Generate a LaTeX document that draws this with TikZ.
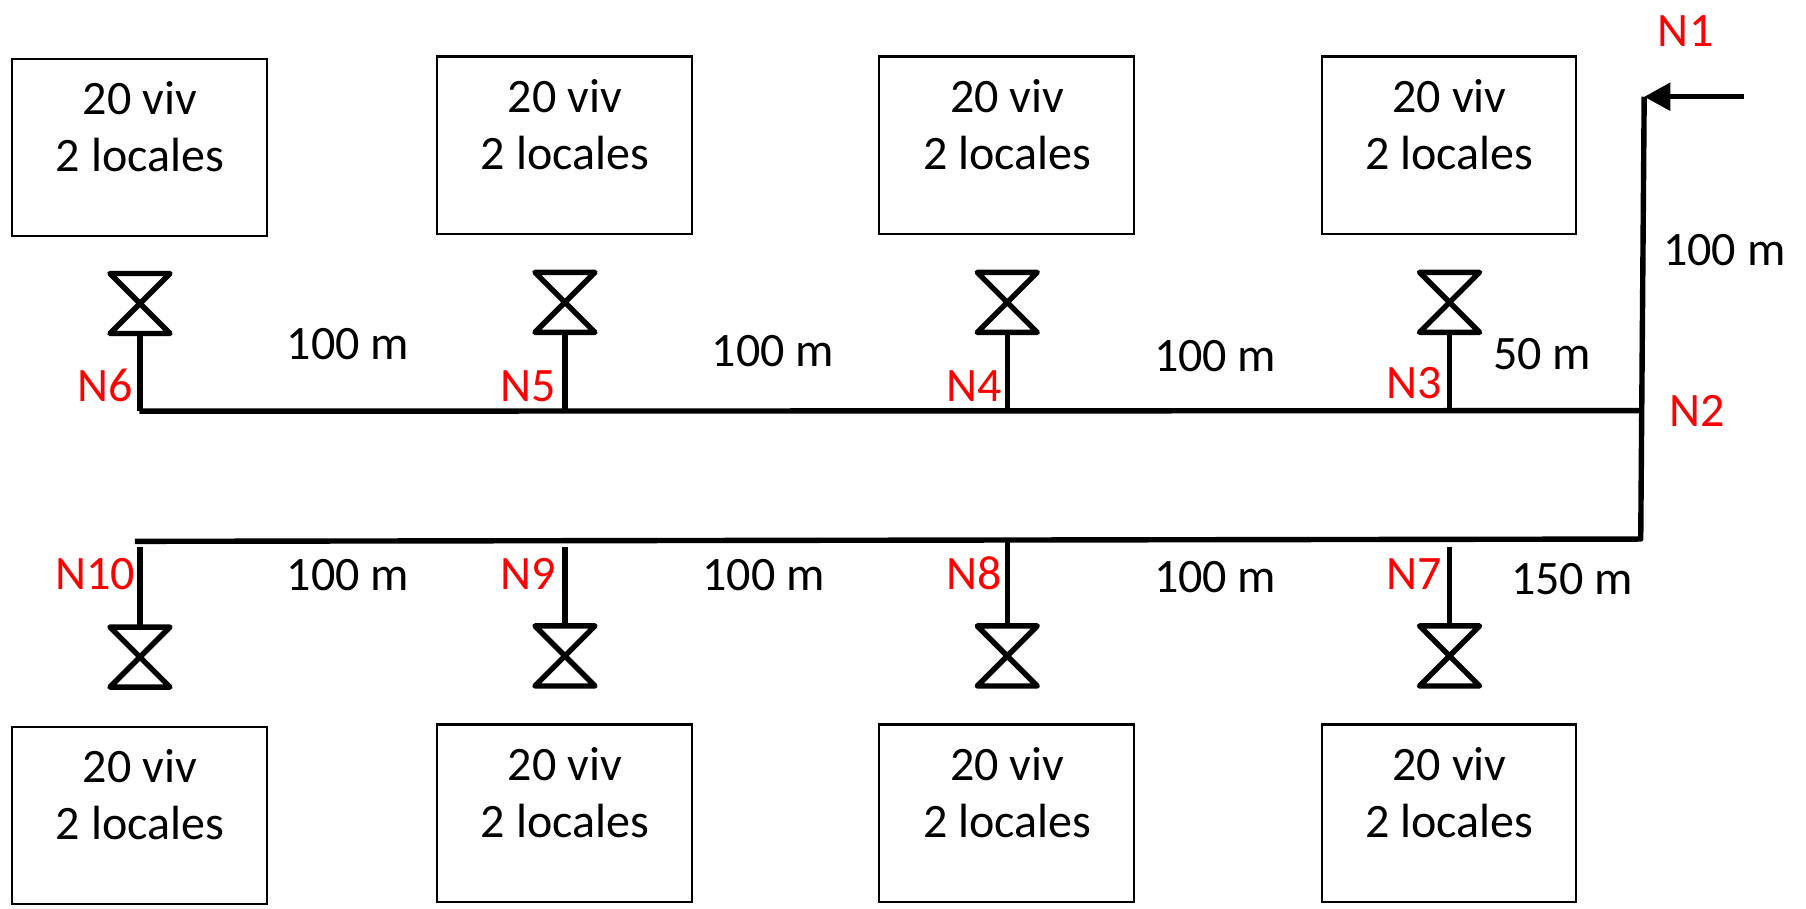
\documentclass[tikz,border=0pt]{standalone}
\usepackage{fontspec}
\setmainfont{Carlito}
\usepackage{xcolor}
\usetikzlibrary{arrows.meta}

\begin{document}
\begin{tikzpicture}[x=0.0225cm, y=-0.0225cm,
    casa/.style={draw, line width=1.2pt, minimum width=141.5pt, minimum height=98.6pt, inner sep=0pt},
    casatxt/.style={align=center, inner sep=0pt, font=\fontsize{26.7}{31.8}\selectfont},
    valvula/.style={minimum width=33pt, minimum height=33pt, inner sep=0pt},
    tubo/.style={line width=3pt, line join=round},
    dist/.style={inner sep=0pt, font=\fontsize{26.7}{31}\selectfont},
    nudo/.style={inner sep=0pt, text=red, font=\fontsize{26.7}{31}\selectfont}]
  \useasboundingbox (0,0) rectangle (1568,789.2);

  % viviendas y valvulas
  \foreach \n/\xx/\yc/\yv in {6/121/128/263.5, 5/490/126/262.5, 4/874/126/262.5, 3/1258/126/262.5,
      10/121/708/570.5, 9/490/706/569.5, 8/874/706/569.5, 7/1258/706/569.5}{
    \node[casa] (c\n) at (\xx,\yc) {};
    \node[casatxt] (t\n) at (\xx+0.5,\yc-18) {20 viv\\2 locales};
    \node[valvula] (v\n) at (\xx+0.5,\yv) {};
    \draw[tubo] (v\n.north west) -- (v\n.north east) -- (v\n.south west)
      -- (v\n.south east) -- cycle;
  }

  % red de tuberias
  \coordinate (e1) at (1514,84);
  \coordinate (n1) at (1427.5,84);
  \coordinate (n2) at (1426.5,356.5);
  \coordinate (n2b) at (1424.5,468);
  \coordinate (n6) at (121,357);
  \coordinate (n10) at (117,470);
  \draw[tubo, line cap=butt] (n1) -- (n2b) -- (n10);
  \draw[tubo] (n6) -- (n2);
  \draw[line width=3pt, -{Triangle[length=14.5pt, width=15pt]}] (e1) -- (n1);

  \foreach \n/\xx/\yy in {6/121.5/357, 5/490.5/357, 4/874.5/356, 3/1258.5/356}{
    \coordinate (j\n) at (\xx,\yy);
    \draw[tubo] (v\n.south) -- (j\n);
  }
  \foreach \n/\xx/\yy in {10/121.5/475, 9/490.5/475, 8/874.5/470, 7/1258.5/475}{
    \coordinate (j\n) at (\xx,\yy);
    \draw[tubo] (j\n) -- (v\n.north);
  }

  % nudos
  \foreach \n/\xx/\yy in {1/1463.5/27, 2/1473.5/357, 3/1227.5/333, 4/846/335, 5/458.5/335,
      6/91/335, 7/1227.5/498, 8/846/498, 9/458.5/498, 10/82.5/498}{
    \node[nudo] (l\n) at (\xx,\yy) {N\n};
  }

  % longitudes
  \node[dist] (d1) at (1497,217) {100 m};
  \node[dist] (d2) at (1339,307) {50 m};
  \node[dist] (d3) at (1055,309) {100 m};
  \node[dist] (d4) at (671,305) {100 m};
  \node[dist] (d5) at (302,299) {100 m};
  \node[dist] (d6) at (1365,503) {150 m};
  \node[dist] (d7) at (1055,501) {100 m};
  \node[dist] (d8) at (663,499) {100 m};
  \node[dist] (d9) at (302,499) {100 m};
\end{tikzpicture}
\end{document}
